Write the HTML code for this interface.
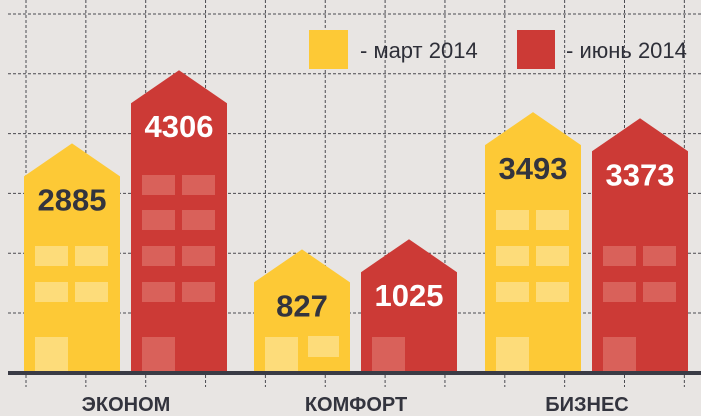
<!DOCTYPE html>
<html><head><meta charset="utf-8"><style>
body{margin:0;background:#e8e5e3;}
svg{display:block;font-family:"Liberation Sans","DejaVu Sans",sans-serif;}
</style></head><body>
<svg id="chart" width="701" height="416" viewBox="0 0 701 416">
<rect width="701" height="416" fill="#e8e5e3"/>
<g id="grid"></g>
<g id="bars"></g>
<rect x="8" y="371" width="693" height="4" fill="#3a3b45"/>
<g>
<rect x="309" y="30" width="39" height="39" fill="#fdc936"/>
<text x="360" y="58" font-size="22" fill="#2e2f38">- март 2014</text>
<rect x="517" y="30" width="38" height="39" fill="#cc3a36"/>
<text x="566" y="58" font-size="22" fill="#2e2f38">- июнь 2014</text>
</g>
<g id="cats"></g>
</svg>
<script>
const categories = ["ЭКОНОМ", "КОМФОРТ", "БИЗНЕС"];
const march = [2885, 827, 3493];
const june = [4306, 1025, 3373];
const ns = "http://www.w3.org/2000/svg";
const baseY = 373;
function yScale(v){ return baseY - (48 + 0.0515 * v); }
function mk(tag, attrs, parent){ const e = document.createElementNS(ns, tag); for (const k in attrs) e.setAttribute(k, attrs[k]); parent.appendChild(e); return e; }
const grid = document.getElementById('grid');
for (let i = 0; i < 6; i++) {
  const y = 14 + i * 59.8;
  const l = mk('line', {x1: 8, x2: 701, y1: y, y2: y, stroke: '#4a4a50', 'stroke-width': 1, 'stroke-dasharray': '3,2'}, grid);
  
  
}
for (let i = 0; i < 12; i++) {
  const x = 26 + i * 59.85;
  const l = mk('line', {x1: x, x2: x, y1: 0, y2: 387, stroke: '#4a4a50', 'stroke-width': 1, 'stroke-dasharray': '3,2'}, grid);
  
  
}
const bars = document.getElementById('bars');
const groupX = [24, 254, 485];
const w = 96;
function building(x, v, series, ci) {
  const yellow = series === 0;
  const g = mk('g', {}, bars);
  
  
  const s = yScale(v);
  const p = mk('polygon', {points: `${x},${baseY} ${x},${s} ${x + w / 2},${s - 33} ${x + w},${s} ${x + w},${baseY}`, fill: yellow ? '#fdc936' : '#cc3a36'}, g);
  
  
  const wf = yellow ? '#fddc7a' : '#d9615a';
  const rows = [282, 246, 210, 175];
  let n = 0;
  for (const ry of rows) {
    if (ry > s + 62 && n < 4) {
      n++;
      for (const dx of [11, 51]) {
        const r = mk('rect', {x: x + dx, y: ry, width: 33, height: 20, fill: wf}, g);
        
        
      }
    }
  }
  if (n === 0 && !yellow) {
    if (302 > s + 45) {
      for (const dx of [11, 51]) {
        const r = mk('rect', {x: x + dx, y: 302, width: 33, height: 20, fill: wf}, g);
        
        
      }
    }
  } else if (n === 0) {
    const r = mk('rect', {x: x + 54, y: 336, width: 31, height: 21, fill: wf}, g);
    
    
  }
  const d = mk('rect', {x: x + 11, y: 337, width: 33, height: 35, fill: wf}, g);
  
  
  const t = mk('text', {x: x + w / 2, y: s + 34, 'text-anchor': 'middle', 'font-size': 31, 'font-weight': 'bold', fill: yellow ? '#33343e' : '#ffffff'}, g);
  t.textContent = v;
  
  
}
for (let i = 0; i < categories.length; i++) {
  building(groupX[i], march[i], 0, i);
  building(groupX[i] + 107, june[i], 1, i);
  const t = mk('text', {x: groupX[i] + 102, y: 411, 'text-anchor': 'middle', 'font-size': 20, 'font-weight': 'bold', fill: '#33343e'}, document.getElementById('cats'));
  t.textContent = categories[i];
  
  
}
</script>
</body></html>
